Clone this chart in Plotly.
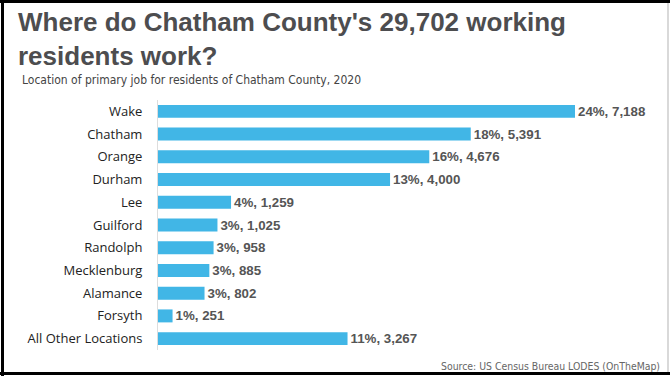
import plotly.graph_objects as go

categories = ["Wake", "Chatham", "Orange", "Durham", "Lee", "Guilford", "Randolph",
              "Mecklenburg", "Alamance", "Forsyth", "All Other Locations"]
workers = [7188, 5391, 4676, 4000, 1259, 1025, 958, 885, 802, 251, 3267]
percents = [24, 18, 16, 13, 4, 3, 3, 3, 3, 1, 11]

title_text = "Where do Chatham County's 29,702 working<br>residents work?"
subtitle_text = "Location of primary job for residents of Chatham County, 2020"
source_text = "Source: US Census Bureau LODES (OnTheMap)"

labels = [f"{p}%, {v:,}" for p, v in zip(percents, workers)]

W, H = 670, 376
ML, MR, MT, MB = 158, 40, 100, 26
PW, PH = W - ML - MR, H - MT - MB


def px(x):
    return (x - ML) / PW


def py(y):
    return 1 - (y - MT) / PH


SANS = "Liberation Sans, Arial, sans-serif"
COND = "DejaVu Sans Condensed, Liberation Sans, Arial, sans-serif"

fig = go.Figure(go.Bar(
    x=workers, y=categories, orientation="h",
    marker=dict(color="#41b6e6", line=dict(width=0)),
    text=labels, textposition="outside", cliponaxis=False, constraintext="none",
    textfont=dict(family=SANS, size=13.3, color="#555555", weight="bold"),
    hoverinfo="skip",
))

fig.update_layout(
    width=W, height=H,
    margin=dict(l=ML, r=MR, t=MT, b=MB, pad=0),
    paper_bgcolor="white", plot_bgcolor="white",
    bargap=0.43, showlegend=False,
    xaxis=dict(range=[0, 8136], visible=False, fixedrange=True),
    yaxis=dict(autorange="reversed", showline=True, linecolor="#dddddd", linewidth=1,
               ticks="", ticklabelstandoff=12, showgrid=False, fixedrange=True,
               tickfont=dict(family="Open Sans, Noto Sans, sans-serif", size=13, color="#222222")),
    annotations=[
        dict(text="<b>" + title_text + "</b>", xref="paper", yref="paper",
             x=px(16), y=py(5), xanchor="left", yanchor="top", showarrow=False, align="left",
             font=dict(family=SANS, size=26, color="#4d4d4f")),
        dict(text=subtitle_text, xref="paper", yref="paper",
             x=px(20), y=py(71), xanchor="left", yanchor="top", showarrow=False, align="left",
             font=dict(family=COND, size=12, color="#444444")),
        dict(text=source_text, xref="paper", yref="paper",
             x=px(662), y=py(358), xanchor="right", yanchor="top", showarrow=False,
             font=dict(family=COND, size=10.4, color="#666666")),
    ],
    shapes=[
        dict(type="line", xref="paper", yref="paper", x0=px(2.5), x1=px(2.5), y0=py(0), y1=py(376),
             line=dict(color="black", width=3)),
        dict(type="line", xref="paper", yref="paper", x0=px(0), x1=px(670), y0=py(1.5), y1=py(1.5),
             line=dict(color="black", width=3)),
        dict(type="line", xref="paper", yref="paper", x0=px(0), x1=px(670), y0=py(373.5), y1=py(373.5),
             line=dict(color="black", width=3)),
        dict(type="line", xref="paper", yref="paper", x0=px(668), x1=px(668), y0=py(3), y1=py(372),
             line=dict(color="#cccccc", width=1.5)),
    ],
)

fig.write_html("out.html", config={"displayModeBar": False},
               post_script="document.body.style.margin='0';document.body.style.overflow='hidden';")
